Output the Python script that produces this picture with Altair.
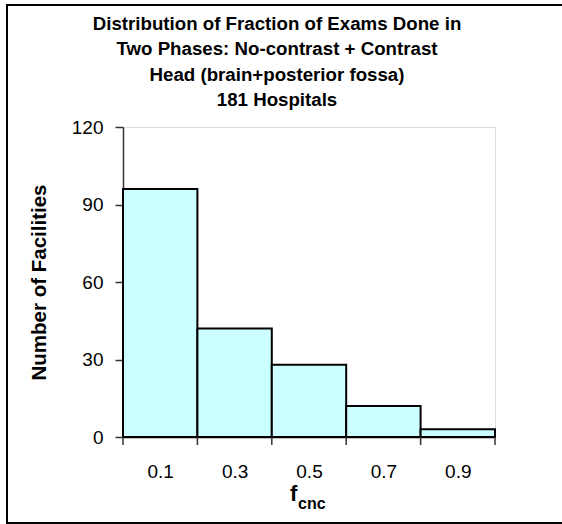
import altair as alt
import pandas as pd

bin_start = [0.0, 0.2, 0.4, 0.6, 0.8]
bin_end = [0.2, 0.4, 0.6, 0.8, 1.0]
counts = [96, 42, 28, 12, 3]
tick_edges = [0.0, 0.2, 0.4, 0.6, 0.8, 1.0]
y_ticks = [0, 30, 60, 90, 120]
title_lines = [
    "Distribution of Fraction of Exams Done in",
    "Two Phases: No-contrast + Contrast",
    "Head (brain+posterior fossa)",
    "181 Hospitals",
]

df = pd.DataFrame({"start": bin_start, "end": bin_end, "count": counts})
edges = pd.DataFrame({"edge": tick_edges})

FONT = "Liberation Sans"
W, H = 372, 310

x_scale = alt.Scale(domain=[0, 1], nice=False, zero=False)
y_scale = alt.Scale(domain=[0, 120], nice=False)

bars = alt.Chart(df).mark_rect(
    fill="#CCFFFF", stroke="#000000", strokeWidth=2
).encode(
    x=alt.X("start:Q", scale=x_scale, title=None,
            axis=alt.Axis(values=bin_start, ticks=False, labelOffset=W / 10,
                          labelExpr="format(datum.value + 0.1, '.1f')",
                          labelFlush=False, labelFontSize=19, labelFont=FONT,
                          labelColor="#000000", labelPadding=25, grid=False,
                          domainColor="#000000", domainWidth=1.5)),
    x2="end:Q",
    y=alt.Y("count:Q", scale=y_scale, title="Number of Facilities",
            axis=alt.Axis(values=y_ticks, tickSize=8, tickColor="#333333",
                          tickWidth=1.5, labelFontSize=19, labelFont=FONT,
                          labelColor="#000000", labelPadding=12, grid=False,
                          domainColor="#333333", domainWidth=1.5,
                          titleFontSize=20.5, titleFont=FONT, titleFontWeight="bold",
                          titleColor="#000000", titlePadding=22)),
    y2=alt.datum(0),
)

xticks = alt.Chart(edges).mark_rule(color="#333333", strokeWidth=1.5).encode(
    x=alt.X("edge:Q", scale=x_scale),
    y=alt.value(H),
    y2=alt.value(H + 8),
)

title = alt.Chart(pd.DataFrame({"k": [0]})).mark_text(
    font=FONT, fontSize=18.7, fontWeight="bold", align="center",
    baseline="alphabetic", lineHeight=25.3, color="#000000"
).encode(text=alt.value(title_lines), x=alt.value(154), y=alt.value(-97))

f_main = alt.Chart(pd.DataFrame({"t": ["f"]})).mark_text(
    font=FONT, fontSize=22, fontWeight="bold", align="left", baseline="alphabetic",
    color="#000000"
).encode(text="t:N", x=alt.value(167), y=alt.value(374))

f_sub = alt.Chart(pd.DataFrame({"t": ["cnc"]})).mark_text(
    font=FONT, fontSize=16, fontWeight="bold", align="left", baseline="alphabetic",
    color="#000000"
).encode(text="t:N", x=alt.value(175), y=alt.value(382))

frame = alt.Chart(pd.DataFrame({"k": [0]})).mark_rect(
    fill=None, stroke="#000000", strokeWidth=2
).encode(
    x=alt.value(-116), x2=alt.value(450), y=alt.value(-122), y2=alt.value(396)
)

chart = alt.layer(bars, xticks, title, f_main, f_sub, frame).properties(
    width=W,
    height=H,
    autosize=alt.AutoSizeParams(type="none"),
    padding={"left": 123, "top": 127, "right": 67, "bottom": 87},
).configure_view(stroke="#808080", strokeWidth=1.5).configure(background="#ffffff")

chart.save("out.html", embed_options={"renderer": "svg", "actions": False})
